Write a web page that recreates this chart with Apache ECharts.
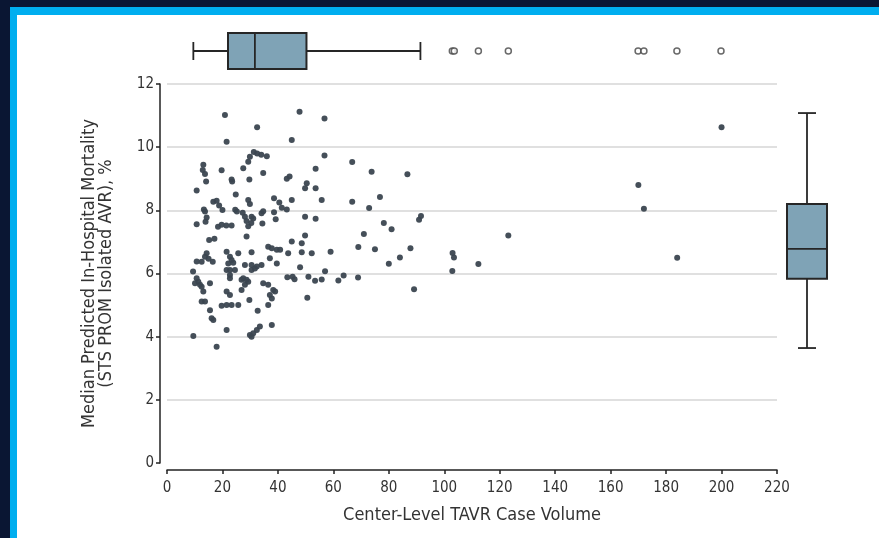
<!DOCTYPE html>
<html>
<head>
<meta charset="utf-8">
<script src="https://cdn.jsdelivr.net/npm/echarts@6/dist/echarts.min.js"></script>
<style>
  html, body { margin: 0; padding: 0; }
  body { width: 879px; height: 538px; background: #0a1633; position: relative; overflow: hidden; }
  #blue { position: absolute; left: 10px; top: 7px; right: 0; bottom: 0; background: #00aeef; }
  #white { position: absolute; left: 17px; top: 15px; right: 0; bottom: 0; background: #ffffff; }
  #chart { position: absolute; left: 0; top: 0; width: 879px; height: 538px; }
</style>
</head>
<body>
<div id="blue"></div>
<div id="white"></div>
<div id="chart"></div>
<script>
// Center-level TAVR case volume (x) vs median predicted in-hospital mortality, % (y)
const caseVolume = [
  20.9, 32.5, 21.5, 47.8, 56.8, 45.0, 56.8, 66.8, 73.8, 86.7,
  53.6, 50.4, 49.8, 53.6, 44.2, 43.2, 29.3, 29.9, 31.3, 32.5,
  34.0, 36.0, 27.5, 13.1, 12.9, 13.7, 14.1, 19.7, 34.7, 23.3,
  23.5, 29.7, 10.7, 24.8,
  16.7, 17.9, 18.8, 20.0, 29.3, 29.9, 38.6, 40.5, 41.4, 43.2,
  45.0, 55.8, 66.8, 76.8, 72.9, 13.3, 13.7, 14.3, 13.9, 24.6,
  25.2, 27.3, 28.1, 28.7, 29.3, 30.5, 31.1, 30.4, 34.1, 34.7,
  34.4, 38.6, 39.2, 49.8, 53.6, 78.2, 81.0, 90.9, 91.6, 10.7,
  18.4, 19.7, 21.4, 23.3, 15.2, 17.1, 28.7, 45.0, 48.6, 49.8,
  71.0, 123.1,
  14.3, 13.7, 15.0, 10.7, 12.5, 16.5, 21.5, 22.7, 23.3, 25.7,
  22.1, 23.9, 22.7, 24.5, 21.5, 30.5, 36.5, 37.8, 39.6, 40.8,
  43.7, 37.1, 39.6, 28.1, 30.5, 32.4, 34.1, 30.5, 31.7, 48.6,
  52.2, 59.0, 69.0, 75.0, 87.8, 103.0, 103.5, 102.9, 112.3, 80.0,
  84.0, 48.0,
  9.4, 10.7, 11.3, 11.9, 10.1, 12.5, 15.5, 22.7, 22.7, 26.9,
  27.5, 28.7, 28.1, 26.9, 29.3, 43.4, 45.3, 46.0, 34.7, 36.5,
  38.3, 39.0, 21.5, 22.7, 37.1, 37.8, 36.5, 13.1, 13.7, 12.5,
  19.7, 21.5, 23.3, 25.7, 29.7, 15.5, 32.7, 16.1, 16.7, 9.5,
  21.5, 29.9, 30.5, 31.1, 32.4, 33.5, 37.8, 17.9, 51.0, 53.4,
  55.8, 57.0, 61.8, 63.7, 68.9, 89.1, 50.6,
  170.0, 172.0, 184.0, 200.0
];
const mortality = [
  11.02, 10.63, 10.17, 11.12, 10.91, 10.23, 9.74, 9.53, 9.22, 9.14,
  9.32, 8.86, 8.70, 8.70, 9.07, 9.00, 9.54, 9.70, 9.85, 9.80,
  9.76, 9.71, 9.33, 9.44, 9.28, 9.15, 8.91, 9.27, 9.18, 8.98,
  8.91, 8.98, 8.63, 8.50,
  8.27, 8.30, 8.15, 8.01, 8.33, 8.20, 8.38, 8.25, 8.08, 8.03,
  8.33, 8.33, 8.27, 8.42, 8.07, 8.03, 7.96, 7.77, 7.64, 8.02,
  7.96, 7.92, 7.80, 7.66, 7.50, 7.80, 7.74, 7.60, 7.91, 7.97,
  7.58, 7.94, 7.72, 7.80, 7.73, 7.60, 7.40, 7.70, 7.82, 7.56,
  7.48, 7.54, 7.52, 7.52, 7.06, 7.10, 7.17, 7.01, 6.96, 7.20,
  7.25, 7.20,
  6.64, 6.53, 6.47, 6.38, 6.37, 6.37, 6.69, 6.53, 6.43, 6.64,
  6.32, 6.34, 6.11, 6.11, 6.11, 6.67, 6.85, 6.80, 6.75, 6.75,
  6.64, 6.48, 6.32, 6.27, 6.27, 6.22, 6.27, 6.11, 6.16, 6.67,
  6.64, 6.69, 6.84, 6.77, 6.80, 6.65, 6.51, 6.08, 6.30, 6.31,
  6.51, 6.20,
  6.06, 5.85, 5.74, 5.64, 5.69, 5.58, 5.69, 5.95, 5.85, 5.80,
  5.85, 5.80, 5.64, 5.48, 5.74, 5.88, 5.90, 5.82, 5.69, 5.64,
  5.48, 5.43, 5.43, 5.32, 5.32, 5.21, 5.00, 5.43, 5.11, 5.11,
  4.98, 5.00, 5.00, 5.00, 5.16, 4.84, 4.82, 4.58, 4.53, 4.02,
  4.21, 4.05, 4.00, 4.11, 4.21, 4.32, 4.37, 3.68, 5.90, 5.77,
  5.81, 6.07, 5.78, 5.94, 5.87, 5.50, 5.23,
  8.80, 8.05, 6.50, 10.63
];
// Box plot summaries: [lower whisker, Q1, median, Q3, upper whisker]
const volumeBox = [9.5, 22.0, 31.7, 50.3, 91.4];
const volumeOutliers = [102.9, 103.6, 112.3, 123.1, 169.9, 172.0, 183.9, 199.8];
const mortalityBox = [3.64, 5.83, 6.78, 8.20, 11.08];
const xTicks = [0, 20, 40, 60, 80, 100, 120, 140, 160, 180, 200, 220];
const yTicks = [0, 2, 4, 6, 8, 10, 12];

const FONT = "'DejaVu Sans Condensed', 'Liberation Sans Narrow', sans-serif";
const TXT = '#333333';
const AX = '#222222';
const BOXFILL = '#7fa3b6';
const BOXLINE = '#262626';

const points = caseVolume.map((v, i) => [v, mortality[i]]);

const boxStyle = { fill: BOXFILL, stroke: BOXLINE, lineWidth: 2 };
const lineStyle = { stroke: BOXLINE, lineWidth: 1.8 };

// Horizontal box (values on x, category index on y)
function renderHBox(params, api) {
  const c = api.value(5);
  const p = [0, 1, 2, 3, 4].map(i => api.coord([api.value(i), c]));
  const y = p[0][1];
  const half = 18, cap = 9;
  return {
    type: 'group', children: [
      { type: 'line', shape: { x1: p[0][0], y1: y, x2: p[1][0], y2: y }, style: lineStyle },
      { type: 'line', shape: { x1: p[3][0], y1: y, x2: p[4][0], y2: y }, style: lineStyle },
      { type: 'line', shape: { x1: p[0][0], y1: y - cap, x2: p[0][0], y2: y + cap }, style: lineStyle },
      { type: 'line', shape: { x1: p[4][0], y1: y - cap, x2: p[4][0], y2: y + cap }, style: lineStyle },
      { type: 'rect', shape: { x: p[1][0], y: y - half, width: p[3][0] - p[1][0], height: 2 * half }, style: boxStyle },
      { type: 'line', shape: { x1: p[2][0], y1: y - half, x2: p[2][0], y2: y + half }, style: lineStyle }
    ]
  };
}
// Vertical box (category index on x, values on y)
function renderVBox(params, api) {
  const c = api.value(0);
  const p = [1, 2, 3, 4, 5].map(i => api.coord([c, api.value(i)]));
  const x = p[0][0];
  const half = 20, cap = 9;
  return {
    type: 'group', children: [
      { type: 'line', shape: { x1: x, y1: p[0][1], x2: x, y2: p[1][1] }, style: lineStyle },
      { type: 'line', shape: { x1: x, y1: p[3][1], x2: x, y2: p[4][1] }, style: lineStyle },
      { type: 'line', shape: { x1: x - cap, y1: p[0][1], x2: x + cap, y2: p[0][1] }, style: lineStyle },
      { type: 'line', shape: { x1: x - cap, y1: p[4][1], x2: x + cap, y2: p[4][1] }, style: lineStyle },
      { type: 'rect', shape: { x: x - half, y: p[3][1], width: 2 * half, height: p[1][1] - p[3][1] }, style: boxStyle },
      { type: 'line', shape: { x1: x - half, y1: p[2][1], x2: x + half, y2: p[2][1] }, style: lineStyle }
    ]
  };
}

const chart = echarts.init(document.getElementById('chart'), null, { renderer: 'canvas' });
chart.setOption({
  backgroundColor: 'transparent',
  animation: false,
  grid: [
    { left: 167, right: 102, top: 84, bottom: 75 },
    { left: 167, right: 102, top: 33, height: 36 },
    { left: 787, width: 40, top: 84, bottom: 75 }
  ],
  xAxis: [
    {
      gridIndex: 0, type: 'value', min: xTicks[0], max: xTicks[xTicks.length - 1], interval: 20,
      offset: 7,
      name: 'Center-Level TAVR Case Volume', nameLocation: 'middle', nameGap: 36,
      nameTextStyle: { fontFamily: FONT, fontSize: 18, color: TXT },
      axisLine: { show: true, onZero: false, lineStyle: { color: AX, width: 1.5 } },
      axisTick: { show: true, length: 4, lineStyle: { color: AX, width: 1.5 } },
      axisLabel: { fontFamily: FONT, fontSize: 15, color: TXT, margin: 11 },
      splitLine: { show: false }
    },
    { gridIndex: 1, type: 'value', min: 0, max: 220, show: false },
    { gridIndex: 2, type: 'category', data: ['m'], show: false }
  ],
  yAxis: [
    {
      gridIndex: 0, type: 'value', min: yTicks[0], max: yTicks[yTicks.length - 1], interval: 2,
      offset: 7,
      name: 'Median Predicted In-Hospital Mortality\n(STS PROM Isolated AVR), %',
      nameLocation: 'middle', nameGap: 45, nameRotate: 90,
      nameTextStyle: { fontFamily: FONT, fontSize: 18, color: TXT, lineHeight: 17 },
      axisLine: { show: true, onZero: false, lineStyle: { color: AX, width: 1.5 } },
      axisTick: { show: true, length: 4, lineStyle: { color: AX, width: 1.5 } },
      axisLabel: { fontFamily: FONT, fontSize: 15, color: TXT, margin: 6 },
      splitLine: { show: true, lineStyle: { color: ['rgba(0,0,0,0)', '#d6d6d6', '#d6d6d6', '#d6d6d6', '#d6d6d6', '#d6d6d6', '#d6d6d6'], width: 1.5 } }
    },
    { gridIndex: 1, type: 'category', data: ['v'], show: false },
    { gridIndex: 2, type: 'value', min: 0, max: 12, show: false }
  ],
  series: [
    {
      type: 'scatter', xAxisIndex: 0, yAxisIndex: 0, data: points,
      symbol: 'circle', symbolSize: 6,
      itemStyle: { color: '#3b4650', opacity: 0.95 }
    },
    {
      type: 'custom', xAxisIndex: 1, yAxisIndex: 1,
      data: [volumeBox.concat([0])],
      encode: { x: [0, 1, 2, 3, 4], y: 5 },
      renderItem: renderHBox, z: 3
    },
    {
      type: 'scatter', xAxisIndex: 1, yAxisIndex: 1,
      data: volumeOutliers.map(v => [v, 0]),
      symbol: 'circle', symbolSize: 6,
      itemStyle: { color: '#ffffff', borderColor: '#444444', borderWidth: 1.5 }
    },
    {
      type: 'custom', xAxisIndex: 2, yAxisIndex: 2,
      data: [[0].concat(mortalityBox)],
      encode: { x: 0, y: [1, 2, 3, 4, 5] },
      renderItem: renderVBox, z: 3
    }
  ]
});
</script>
</body>
</html>
